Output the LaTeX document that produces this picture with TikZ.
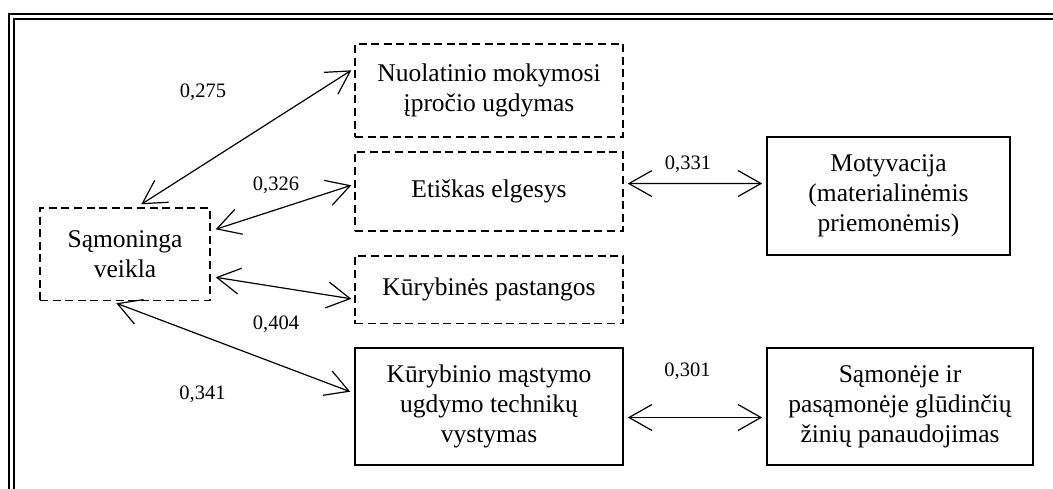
\documentclass[tikz,border=0pt]{standalone}
\usepackage{fontspec}
\setmainfont{Liberation Serif}
\usetikzlibrary{arrows.meta}

\tikzset{
  box/.style={draw, line width=1.6pt, inner sep=0pt, align=center,
    font=\fontsize{25.5}{30}\selectfont},
  dbox/.style={box, line width=1.4pt, dash pattern=on 8pt off 4.6pt},
  link/.style={line width=1.2pt,
    {Straight Barb[length=23pt,width=26pt]}-{Straight Barb[length=23pt,width=26pt]}},
  coef/.style={anchor=base, inner sep=0pt, font=\fontsize{20.5}{24}\selectfont},
  frameline/.style={line width=2.3pt}
}

\begin{document}
\begin{tikzpicture}[x=1pt,y=-1pt]
  \useasboundingbox (0,0) rectangle (1053,488);
  \fill[white] (0,0) rectangle (1053,488);

  % double frame, running off the right and bottom edges
  \begin{scope}
    \clip (0,0) rectangle (1053,488);
    \draw[frameline] (9.2,14.3) rectangle (1120,560);
    \draw[frameline] (13.8,18.9) rectangle (1115,555);
  \end{scope}

  % boxes
  \node[dbox, minimum width=170pt, minimum height=92.5pt] (sam) at (125,254.25)
    {Sąmoninga\\veikla};
  \node[dbox, minimum width=268pt, minimum height=93pt] (nuol) at (489,90.5)
    {Nuolatinio mokymosi\\įpročio ugdymas};
  \node[dbox, minimum width=268pt, minimum height=79pt] (etis) at (489,191.5)
    {Etiškas elgesys};
  \node[dbox, minimum width=268pt, minimum height=67.5pt] (kuryb) at (489,289.75)
    {Kūrybinės pastangos};
  \node[box, minimum width=268pt, minimum height=117pt] (kmast) at (489,406.5)
    {Kūrybinio mąstymo\\ugdymo technikų\\vystymas};
  \node[box, minimum width=243pt, minimum height=118pt] (motyv) at (888.5,196)
    {Motyvacija\\(materialinėmis\\priemonėmis)};
  \node[box, minimum width=266pt, minimum height=117pt] (pasam) at (900,406.5)
    {Sąmonėje ir\\pasąmonėje glūdinčių\\žinių panaudojimas};

  % two-way links
  \draw[link] ([shift={(102,-3)}]sam.north west) -- ([shift={(-3,27)}]nuol.north west);
  \draw[link] ([shift={(5,22)}]sam.north east) -- ([shift={(-3,34)}]etis.north west);
  \draw[link] ([shift={(5,70)}]sam.north east) -- ([shift={(-3,43.5)}]kuryb.north west);
  \draw[link] ([shift={(77,2)}]sam.south west) -- ([shift={(-4,44.5)}]kmast.north west);
  \draw[link] ([shift={(4,32.3)}]etis.north east) -- ([shift={(-4,47.3)}]motyv.north west);
  \draw[link] ([shift={(4,70.3)}]kmast.north east) -- ([shift={(-4,70.3)}]pasam.north west);

  % coefficients
  \node[coef] (c1) at (203,97) {0,275};
  \node[coef] (c2) at (276,190.5) {0,326};
  \node[coef] (c3) at (276,329.5) {0,404};
  \node[coef] (c4) at (202.5,399.5) {0,341};
  \node[coef] (c5) at (688,169) {0,331};
  \node[coef] (c6) at (687.5,376) {0,301};
\end{tikzpicture}
\end{document}
